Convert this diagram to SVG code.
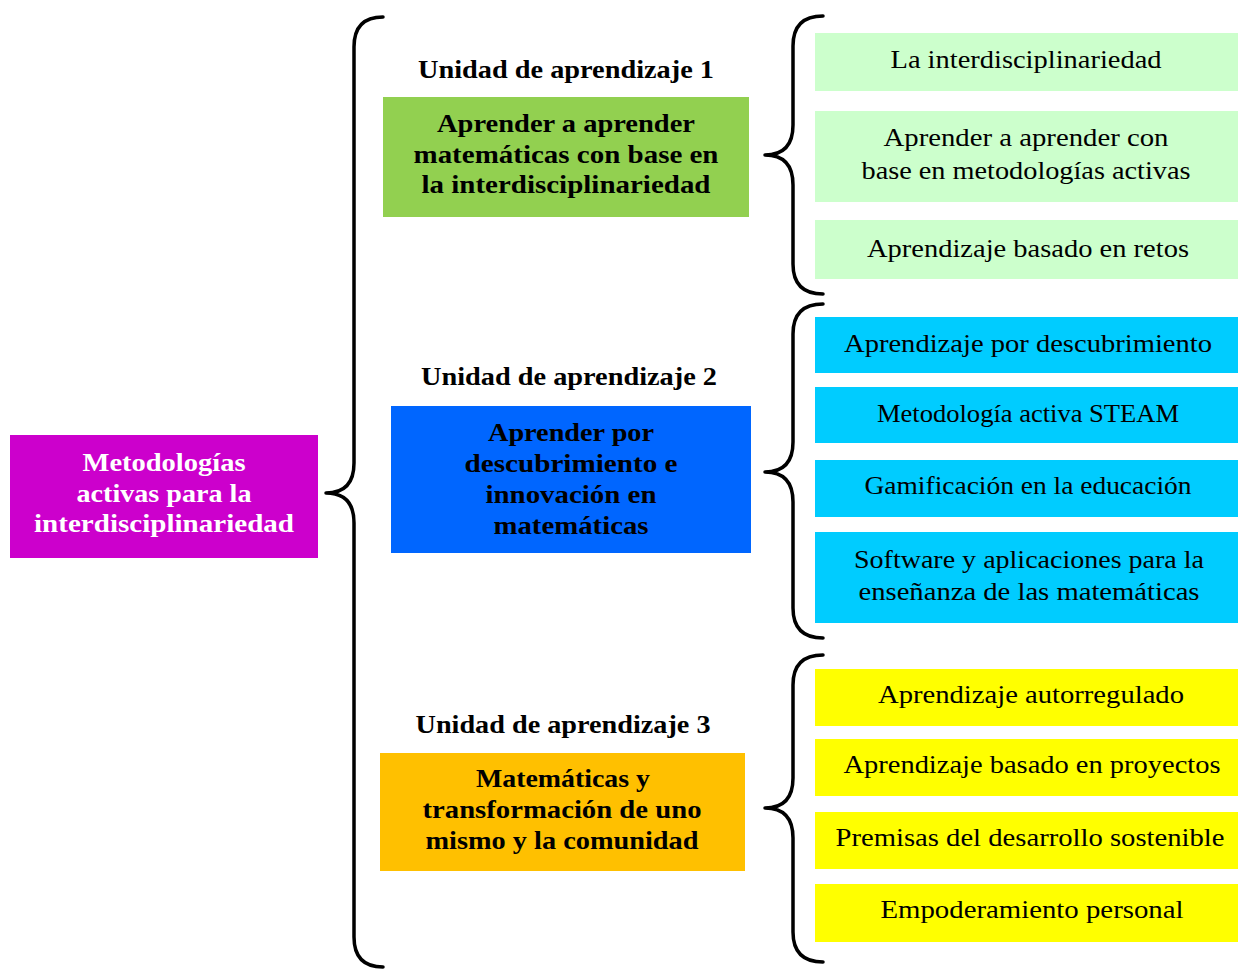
<svg xmlns="http://www.w3.org/2000/svg" width="1238" height="969" viewBox="0 0 1238 969">
<style>
text{font-family:"Liberation Serif","Times New Roman",serif;font-size:26px;text-anchor:middle;fill:#000}
.b{font-weight:bold}
.w{fill:#fff}
.br{fill:none;stroke:#000;stroke-width:3.5;stroke-linecap:round;stroke-linejoin:round}
</style>
<rect width="1238" height="969" fill="#fff"/>
<g id="connectors">
<path class="br" d="M383,17 Q354,17 354,47 L354,463 Q354,493 326,493 Q354,493 354,523 L354,937 Q354,967 383,967"/>
<path class="br" d="M823,16 Q793,16 793,46 L793,125 Q793,155 765,155 Q793,155 793,185 L793,264 Q793,294 823,294"/>
<path class="br" d="M823,304 Q793,304 793,334 L793,442 Q793,472 765,472 Q793,472 793,502 L793,608 Q793,638 823,638"/>
<path class="br" d="M823,655 Q793,655 793,685 L793,778 Q793,808 765,808 Q793,808 793,838 L793,932 Q793,962 823,962"/>
</g>
<g id="root">
<rect x="10" y="435" width="308" height="123" fill="#CC00CC"/>
<text class="b w" x="164" y="471" textLength="163" lengthAdjust="spacingAndGlyphs">Metodologías</text>
<text class="b w" x="164" y="502" textLength="175" lengthAdjust="spacingAndGlyphs">activas para la</text>
<text class="b w" x="164" y="532" textLength="260" lengthAdjust="spacingAndGlyphs">interdisciplinariedad</text>
</g>
<g id="unit1">
<text class="b" x="566" y="78" textLength="296" lengthAdjust="spacingAndGlyphs">Unidad de aprendizaje 1</text>
<rect x="383" y="97" width="366" height="120" fill="#92D050"/>
<text class="b" x="566" y="132" textLength="258" lengthAdjust="spacingAndGlyphs">Aprender a aprender</text>
<text class="b" x="566" y="163" textLength="305" lengthAdjust="spacingAndGlyphs">matemáticas con base en</text>
<text class="b" x="566" y="193" textLength="289" lengthAdjust="spacingAndGlyphs">la interdisciplinariedad</text>
</g>
<g id="unit2">
<text class="b" x="569" y="385" textLength="296" lengthAdjust="spacingAndGlyphs">Unidad de aprendizaje 2</text>
<rect x="391" y="406" width="360" height="147" fill="#0066FF"/>
<text class="b" x="571" y="441" textLength="166" lengthAdjust="spacingAndGlyphs">Aprender por</text>
<text class="b" x="571" y="472" textLength="213" lengthAdjust="spacingAndGlyphs">descubrimiento e</text>
<text class="b" x="571" y="503" textLength="171" lengthAdjust="spacingAndGlyphs">innovación en</text>
<text class="b" x="571" y="534" textLength="155" lengthAdjust="spacingAndGlyphs">matemáticas</text>
</g>
<g id="unit3">
<text class="b" x="563" y="733" textLength="295" lengthAdjust="spacingAndGlyphs">Unidad de aprendizaje 3</text>
<rect x="380" y="753" width="365" height="118" fill="#FFC000"/>
<text class="b" x="563" y="787" textLength="174" lengthAdjust="spacingAndGlyphs">Matemáticas y</text>
<text class="b" x="562" y="818" textLength="279" lengthAdjust="spacingAndGlyphs">transformación de uno</text>
<text class="b" x="562" y="849" textLength="273" lengthAdjust="spacingAndGlyphs">mismo y la comunidad</text>
</g>
<g id="u1-item1">
<rect x="815" y="33" width="423" height="58" fill="#CCFFCC"/>
<text x="1026" y="68" textLength="271" lengthAdjust="spacingAndGlyphs">La interdisciplinariedad</text>
</g>
<g id="u1-item2">
<rect x="815" y="111" width="423" height="91" fill="#CCFFCC"/>
<text x="1026" y="146" textLength="285" lengthAdjust="spacingAndGlyphs">Aprender a aprender con</text>
<text x="1026" y="179" textLength="329" lengthAdjust="spacingAndGlyphs">base en metodologías activas</text>
</g>
<g id="u1-item3">
<rect x="815" y="220" width="423" height="59" fill="#CCFFCC"/>
<text x="1028" y="257" textLength="322" lengthAdjust="spacingAndGlyphs">Aprendizaje basado en retos</text>
</g>
<g id="u2-item1">
<rect x="815" y="317" width="423" height="56" fill="#00CCFF"/>
<text x="1028" y="352" textLength="368" lengthAdjust="spacingAndGlyphs">Aprendizaje por descubrimiento</text>
</g>
<g id="u2-item2">
<rect x="815" y="387" width="423" height="56" fill="#00CCFF"/>
<text x="1028" y="422" textLength="302" lengthAdjust="spacingAndGlyphs">Metodología activa STEAM</text>
</g>
<g id="u2-item3">
<rect x="815" y="460" width="423" height="57" fill="#00CCFF"/>
<text x="1028" y="494" textLength="327" lengthAdjust="spacingAndGlyphs">Gamificación en la educación</text>
</g>
<g id="u2-item4">
<rect x="815" y="532" width="423" height="91" fill="#00CCFF"/>
<text x="1029" y="568" textLength="350" lengthAdjust="spacingAndGlyphs">Software y aplicaciones para la</text>
<text x="1029" y="600" textLength="341" lengthAdjust="spacingAndGlyphs">enseñanza de las matemáticas</text>
</g>
<g id="u3-item1">
<rect x="815" y="669" width="423" height="57" fill="#FFFF00"/>
<text x="1031" y="703" textLength="306" lengthAdjust="spacingAndGlyphs">Aprendizaje autorregulado</text>
</g>
<g id="u3-item2">
<rect x="815" y="739" width="423" height="57" fill="#FFFF00"/>
<text x="1032" y="773" textLength="377" lengthAdjust="spacingAndGlyphs">Aprendizaje basado en proyectos</text>
</g>
<g id="u3-item3">
<rect x="815" y="812" width="423" height="57" fill="#FFFF00"/>
<text x="1030" y="846" textLength="389" lengthAdjust="spacingAndGlyphs">Premisas del desarrollo sostenible</text>
</g>
<g id="u3-item4">
<rect x="815" y="884" width="423" height="58" fill="#FFFF00"/>
<text x="1032" y="918" textLength="303" lengthAdjust="spacingAndGlyphs">Empoderamiento personal</text>
</g>
</svg>
